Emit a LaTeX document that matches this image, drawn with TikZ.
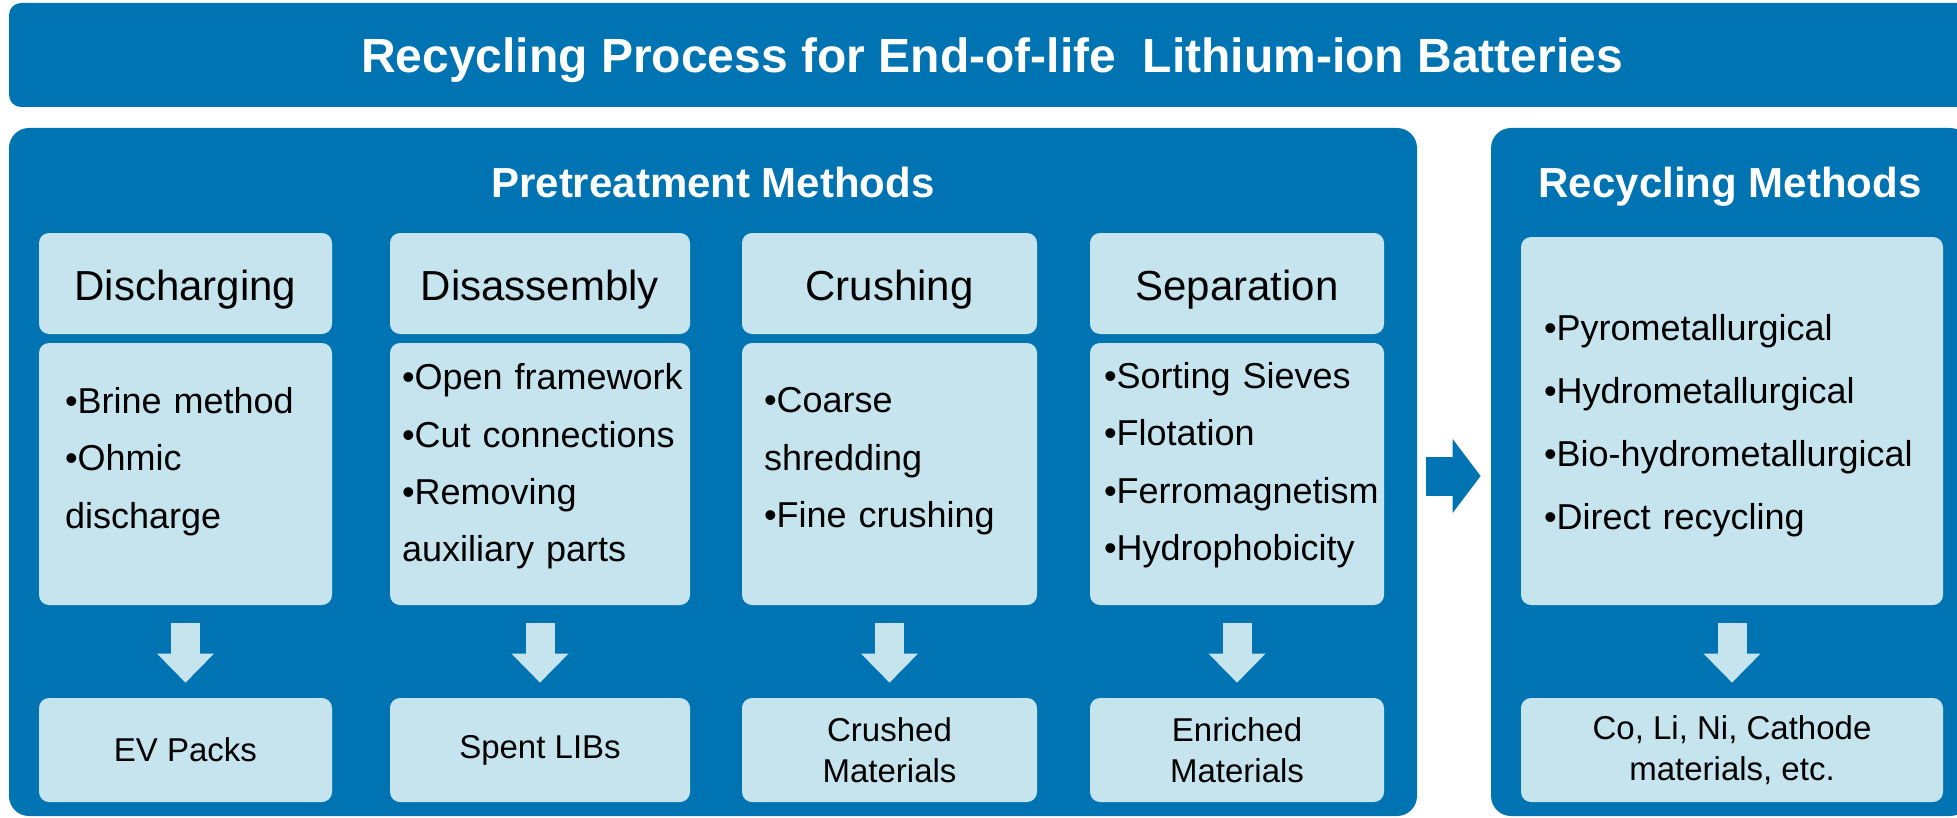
\documentclass[tikz,border=0pt]{standalone}
\usepackage{fontspec}
\setmainfont{Liberation Sans}
\usetikzlibrary{arrows.meta}
\hyphenpenalty=10000
\exhyphenpenalty=10000
\hbadness=10000
\hfuzz=20pt
\definecolor{panelblue}{RGB}{0,116,178}
\definecolor{boxblue}{RGB}{197,228,238}
\tikzset{panel/.style={rectangle, rounded corners=10pt, fill=panelblue, inner sep=0pt}}
\tikzset{paneltitle/.style={text=white, text height=15.3pt, text depth=0pt,
      font=\fontsize{21}{25}\selectfont\bfseries}}
\tikzset{lightbox/.style={rectangle, rounded corners=5pt, fill=boxblue, inner sep=0pt, text=black}}
\tikzset{headbox/.style={lightbox, minimum height=50.5pt, text height=21pt, text depth=4.5pt,
      font=\fontsize{21}{25}\selectfont}}
\tikzset{bodybox/.style={lightbox, minimum height=131pt, align=left, font=\fontsize{18}{28.7}\selectfont}}
\tikzset{outbox/.style={lightbox, minimum height=52pt, align=center, font=\fontsize{16.5}{20.5}\selectfont}}
\tikzset{downarrow/.style={draw=boxblue, line width=14.5pt,
      -{Triangle[width=28.5pt,length=14.5pt,line width=0pt]}, shorten <=9pt, shorten >=7.5pt}}
\tikzset{sidearrow/.style={draw=panelblue, line width=19.5pt,
      -{Triangle[width=37pt,length=14pt,line width=0pt]}, shorten <=4.5pt, shorten >=5pt}}

\begin{document}
\begin{tikzpicture}[x=0.5pt,y=-0.5pt]
		\useasboundingbox (0,0) rectangle (1957,818);
		\clip (0,0) rectangle (1957,818);
		\fill[white] (0,0) rectangle (1957,818);
		% banner and panels
		\node[panel, rounded corners=6pt, minimum width=983pt, minimum height=52pt, text=white, text depth=0pt,
		  font=\fontsize{24}{28}\selectfont\bfseries] (banner) at (992,55) {Recycling Process for End-of-life~ Lithium-ion Batteries};
		\node[panel, minimum width=704pt, minimum height=344pt] (pre) at (713,472) {};
		\node[panel, minimum width=239.5pt, minimum height=344pt] (rec) at (1730.5,472) {};
		\node[paneltitle] (pre-title) at (713,182) {Pretreatment Methods};
		\node[paneltitle] (rec-title) at (1730,182) {Recycling Methods};
		% pretreatment steps
		\node[headbox, minimum width=146.5pt] (dch) at (185.5,283.5) {Discharging};
		\node[headbox, minimum width=150pt] (dsa) at (540,283.5) {Disassembly};
		\node[headbox, minimum width=147.5pt] (cru) at (889.5,283.5) {Crushing};
		\node[headbox, minimum width=147pt] (sep) at (1237,283.5) {Separation};
		\node[bodybox, minimum width=146.5pt, text width=120.5pt] (dch-body) at (185.5,474)
		  {•Brine method\\•Ohmic\\discharge\par\vspace{12.5pt}};
		\node[bodybox, minimum width=150pt, text width=138pt] (dsa-body) at (540,474)
		  {\mbox{•Open framework}\\\mbox{•Cut connections}\\•Removing\\auxiliary parts\par\vspace{7.5pt}};
		\node[bodybox, minimum width=147.5pt, text width=125.5pt] (cru-body) at (889.5,474)
		  {•Coarse\\shredding\\•Fine crushing\par\vspace{12.5pt}};
		\node[bodybox, minimum width=147pt, text width=133pt] (sep-body) at (1237,474)
		  {•Sorting Sieves\\•Flotation\\\mbox{•Ferromagnetism}\\•Hydrophobicity\par\vspace{9pt}};
		\node[outbox, minimum width=146.5pt] (dch-out) at (185.5,750) {EV Packs};
		\node[outbox, minimum width=150pt] (dsa-out) at (540,750) {Spent LIBs};
		\node[outbox, minimum width=147.5pt] (cru-out) at (889.5,750) {Crushed\\Materials};
		\node[outbox, minimum width=147pt] (sep-out) at (1237,750) {Enriched\\Materials};
		% recycling
		\node[bodybox, minimum width=211pt, minimum height=184pt, text width=188pt,
		  font=\fontsize{18}{31.5}\selectfont] (rec-body) at (1732,421)
		  {•Pyrometallurgical\\•Hydrometallurgical\\•Bio-hydrometallurgical\\•Direct recycling\par\vspace{-4.4pt}};
		\node[outbox, minimum width=211pt] (rec-out) at (1732,750) {Co, Li, Ni, Cathode\\materials, etc.};
		% arrows
		\draw[downarrow] (dch-body) -- (dch-out);
		\draw[downarrow] (dsa-body) -- (dsa-out);
		\draw[downarrow] (cru-body) -- (cru-out);
		\draw[downarrow] (sep-body) -- (sep-out);
		\draw[downarrow] (rec-body) -- (rec-out);
		\draw[sidearrow] ([yshift=-2pt]pre.east) -- ([yshift=-2pt]rec.west);
		\end{tikzpicture}
\end{document}
